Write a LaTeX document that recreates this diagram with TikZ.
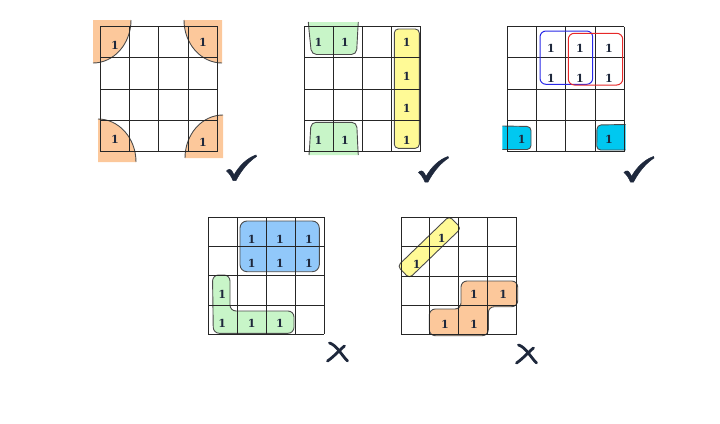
\documentclass[tikz,border=0pt]{standalone}
\usepackage{fontspec}
\usepackage{xcolor}
\usepackage{tikz}
\usetikzlibrary{calc}
\newfontfamily\onefont{DejaVu Serif}
\definecolor{peach}{RGB}{252,200,155}
\definecolor{mint}{RGB}{200,245,200}
\definecolor{lemon}{RGB}{255,250,150}
\definecolor{skyfill}{RGB}{145,200,250}
\definecolor{cyanfill}{RGB}{0,200,240}
\definecolor{inkblue}{RGB}{30,40,60}
\definecolor{loopblue}{RGB}{40,40,230}
\definecolor{loopred}{RGB}{230,40,40}
\tikzset{
        gridline/.style={draw=black!85, line width=1pt},
        grp/.style={draw=black!70, line width=0.9pt},
        one/.style={text=inkblue, font=\onefont\fontsize{11}{12}\selectfont\bfseries, inner sep=0pt},
        checkmk/.style={fill=inkblue, draw=inkblue, line width=0.5pt},
        xmark/.style={draw=inkblue, line width=2.8pt, line cap=round},
    }

\begin{document}
\begin{tikzpicture}[x=1pt, y=-1pt]
        \useasboundingbox (0,0) rectangle (720,423);

        % map 1: four corners
        \fill[peach] (93,20) -- (131,20) arc[start angle=0, end angle=90, x radius=38, y radius=43] -- cycle;
        \fill[peach] (222,20) -- (184,20) arc[start angle=180, end angle=90, x radius=38, y radius=43] -- cycle;
        \fill[peach] (98,162) -- (98,119) arc[start angle=270, end angle=360, x radius=38, y radius=43] -- cycle;
        \fill[peach] (223,158) -- (185,158) arc[start angle=180, end angle=270, x radius=38, y radius=43] -- cycle;
        \draw[grp] (131,20) arc[start angle=0, end angle=90, x radius=38, y radius=43];
        \draw[grp] (184,20) arc[start angle=180, end angle=90, x radius=38, y radius=43];
        \draw[grp] (98,119) arc[start angle=270, end angle=360, x radius=38, y radius=43];
        \draw[grp] (185,158) arc[start angle=180, end angle=270, x radius=38, y radius=43];

        % map 2: top and bottom pairs, right column
        \fill[mint] (308.3,22) -- (309,30) [rounded corners=5pt] -- (311.5,54.5) -- (356.5,54.5) -- (357.8,30) [sharp corners] -- (358.3,22) -- cycle;
        \draw[grp] (308.3,22) -- (309,30) [rounded corners=5pt] -- (311.5,54.5) -- (356.5,54.5) -- (357.8,30) [sharp corners] -- (358.3,22);
        \fill[mint] (309,155) -- (309.6,147) [rounded corners=5pt] -- (311,122.3) -- (356.7,122.3) -- (357.8,147) [sharp corners] -- (358.3,155) -- cycle;
        \draw[grp] (309,155) -- (309.6,147) [rounded corners=5pt] -- (311,122.3) -- (356.7,122.3) -- (357.8,147) [sharp corners] -- (358.3,155);
        \draw[grp, fill=lemon, rounded corners=4pt] (394.3,29) rectangle (419.3,148.3);

        % map 3: wrap-around pair
        \fill[cyanfill] (502.3,126) [rounded corners=4pt] -- (531,126.5) -- (531,149.5) [sharp corners] -- (502.3,149.5) -- cycle;
        \draw[grp] (502.3,126) [rounded corners=4pt] -- (531,126.5) -- (531,149.5) [sharp corners] -- (502.3,149.5);
        \fill[cyanfill] (625.5,124.5) [rounded corners=4pt] -- (597,125) -- (596.7,150) [sharp corners] -- (625.5,150) -- cycle;
        \draw[grp] (625.5,124.5) [rounded corners=4pt] -- (597,125) -- (596.7,150) [sharp corners] -- (625.5,150);

        % map 4: block and L shape
        \draw[grp, fill=skyfill, rounded corners=7pt] (240,221) rectangle (319.3,271.7);
        \draw[grp, fill=mint, rounded corners=6pt] (213.3,333.3) -- (212.5,275) -- (230,275) -- (230,311) -- (294,311) -- (294,333.3) -- cycle;

        % map 5: diagonal and staircase
        \node[grp, fill=lemon, rotate=44, minimum width=72pt, minimum height=17pt, rounded corners=4pt, inner sep=0pt] (diag) at (429.3,247.2) {};
        \draw[grp, fill=peach, rounded corners=6pt] (461,281) -- (517.7,281) -- (517.7,306.7) -- (488.3,306.7) -- (488.3,335.7) -- (429.3,335.7) -- (429.3,309) -- (461,309) -- cycle;

        % grids
        \foreach \gx/\gy/\cw/\ch in {100/26.7/29.4/31.25, 304/26.7/29.2/31.25, 507.3/26.7/29.25/31.25, 208.3/217.3/29/29.25, 401/217.3/28.9/29.4} {
            \foreach \i in {0,...,4} {
                \draw[gridline] (\gx+\i*\cw, \gy) -- (\gx+\i*\cw, \gy+4*\ch);
                \draw[gridline] (\gx, \gy+\i*\ch) -- (\gx+4*\cw, \gy+\i*\ch);
            }
        }

        % loops of map 3 drawn over the grid
        \draw[loopblue, line width=1pt, rounded corners=6pt] (540,31) rectangle (592.7,84.3);
        \draw[loopred, line width=1pt, rounded corners=6pt] (568.3,33.3) rectangle (622.7,85);

        % ones
        \foreach \px/\py [count=\i] in {115/45, 203/42, 115/139, 203/142}
            \node[one] (ma\i) at (\px,\py) {1};
        \foreach \px/\py [count=\i] in {318.5/42.3, 345/42.3, 406.7/42.3, 406.7/76.7, 406.7/108.3, 406.7/140, 318.5/140, 345/140}
            \node[one] (mb\i) at (\px,\py) {1};
        \foreach \px/\py [count=\i] in {551/48, 580/48, 609/48, 551/78, 580/78, 609/78, 521.7/139, 609/139}
            \node[one] (mc\i) at (\px,\py) {1};
        \foreach \px/\py [count=\i] in {251.7/239, 280/239, 309/239, 251.7/263, 280/263, 309/263, 222.3/294.3, 222.3/323.3, 251.7/323.3, 280/323.3}
            \node[one] (md\i) at (\px,\py) {1};
        \foreach \px/\py [count=\i] in {441.7/238.3, 416.7/264.3, 474/294.3, 503.3/294.3, 445/324, 474/324}
            \node[one] (me\i) at (\px,\py) {1};

        % checks and crosses
        \foreach \cx/\cy in {234/179, 426/180.5, 631.5/180.5}
            \fill[checkmk, shift={(\cx,\cy)}] (-7.5,-8) .. controls (-5.5,-10.5) and (-3,-10) .. (-1.5,-7) -- (0,-4) .. controls (5,-13) and (13,-21) .. (22,-24) -- (22.5,-22.5) .. controls (14,-17) and (7,-8) .. (2,1.5) -- (-1,1.5) .. controls (-3,-3) and (-5,-6) .. (-7.5,-8) -- cycle;
        \foreach \cx/\cy in {338.5/351, 527.5/353} {
            \draw[xmark, shift={(\cx,\cy)}] (-9,-8) .. controls (-2,-6) and (3,4) .. (9,10);
            \draw[xmark, shift={(\cx,\cy)}] (6,-5) .. controls (1,-1) and (-5,6) .. (-11,10);
        }
    \end{tikzpicture}
\end{document}
